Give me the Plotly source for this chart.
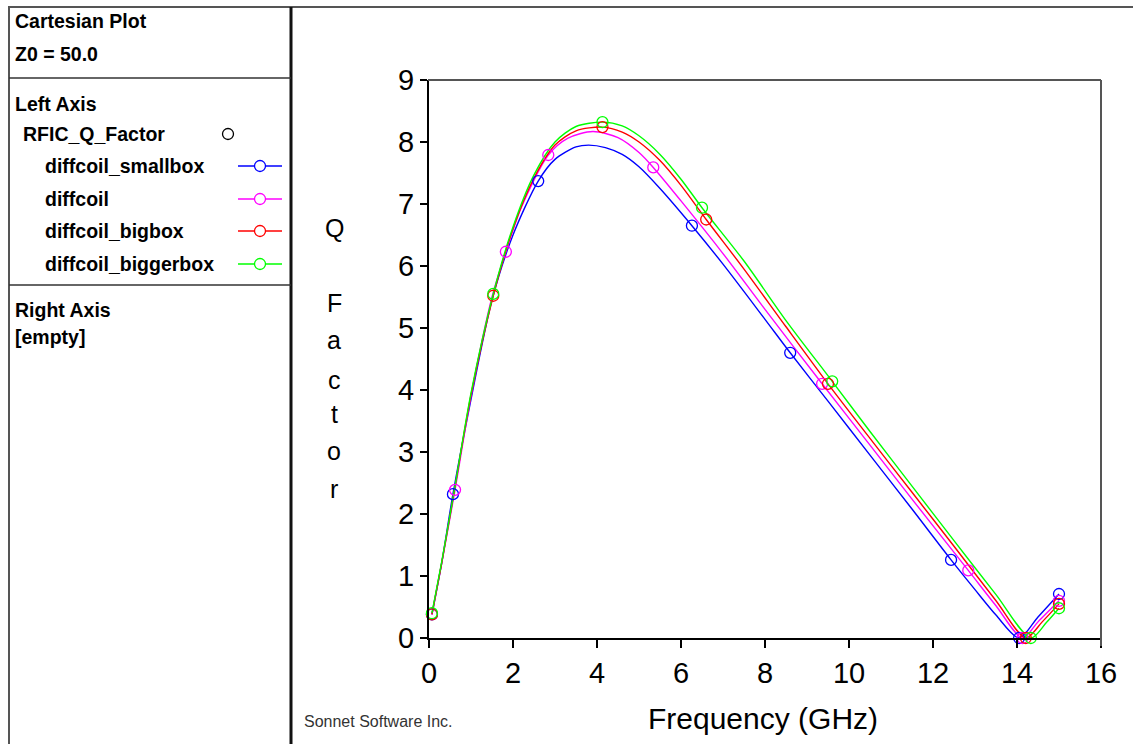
import plotly.graph_objects as go

W, H = 1133, 744

# ---------------- data ----------------
names = ["diffcoil_smallbox", "diffcoil", "diffcoil_bigbox", "diffcoil_biggerbox"]
colors = ["#0000FF", "#FF00FF", "#FF0000", "#00FF00"]

f_small = [0.07, 0.3, 0.57, 1.0, 1.5, 2.0, 2.6, 3.0, 3.5, 3.8, 4.2, 4.6, 5.0, 5.5, 6.26, 7.0, 8.0, 8.6,
           9.5, 10.5, 11.5, 12.43, 13.0, 13.5, 14.05, 14.5, 15.0]
q_small = [0.38, 1.2, 2.32, 3.85, 5.45, 6.5, 7.37, 7.72, 7.92, 7.95, 7.91, 7.8, 7.6, 7.25, 6.65, 6.03, 5.14, 4.6,
           3.82, 2.95, 2.08, 1.26, 0.78, 0.37, 0.0, 0.34, 0.71]
mk_small = [0.07, 0.57, 2.6, 6.26, 8.6, 12.43, 14.05, 15.0]

f_diff = [0.07, 0.3, 0.62, 1.0, 1.5, 1.83, 2.2, 2.84, 3.3, 3.9, 4.5, 5.0, 5.34, 6.0, 7.0, 8.0, 9.36, 10.5,
          11.5, 12.84, 13.5, 14.13, 14.5, 15.0]
q_diff = [0.38, 1.2, 2.39, 3.9, 5.5, 6.23, 6.95, 7.79, 8.06, 8.17, 8.07, 7.83, 7.59, 7.05, 6.2, 5.3, 4.1, 3.11,
          2.24, 1.09, 0.52, 0.0, 0.26, 0.6]
mk_diff = [0.62, 1.83, 2.84, 5.34, 9.36, 12.84, 14.13, 15.0]

f_big = [0.07, 0.3, 0.6, 1.0, 1.53, 2.0, 2.5, 3.0, 3.5, 4.13, 4.6, 5.0, 5.5, 6.0, 6.6, 7.5, 8.5, 9.5, 10.5,
         11.5, 12.5, 13.5, 14.21, 14.6, 15.0]
q_big = [0.38, 1.2, 2.36, 3.92, 5.52, 6.6, 7.42, 7.95, 8.18, 8.24, 8.16, 8.0, 7.7, 7.3, 6.75, 5.95, 5.02, 4.1,
         3.22, 2.35, 1.48, 0.6, 0.0, 0.26, 0.55]
mk_big = [0.07, 1.53, 4.13, 6.6, 9.5, 14.21, 15.0]

f_bigger = [0.07, 0.3, 0.6, 1.0, 1.53, 2.0, 2.5, 3.0, 3.5, 4.13, 4.6, 5.0, 5.5, 6.0, 6.5, 7.5, 8.5, 9.6,
            10.5, 11.5, 12.5, 13.5, 14.33, 14.7, 15.0]
q_bigger = [0.4, 1.22, 2.37, 3.95, 5.55, 6.63, 7.47, 8.0, 8.25, 8.32, 8.26, 8.1, 7.8, 7.4, 6.94, 6.08, 5.12,
            4.14, 3.33, 2.45, 1.57, 0.7, 0.0, 0.25, 0.48]
mk_bigger = [0.07, 1.53, 4.13, 6.5, 9.6, 14.33, 15.0]

series_f = [f_small, f_diff, f_big, f_bigger]
series_q = [q_small, q_diff, q_big, q_bigger]
series_mk = [mk_small, mk_diff, mk_big, mk_bigger]

x_ticks = [0, 2, 4, 6, 8, 10, 12, 14, 16]
y_ticks = [0, 1, 2, 3, 4, 5, 6, 7, 8, 9]

# ---------------- helpers ----------------
def px(x):
    return x / W


def py(y):
    return 1 - y / H


fig = go.Figure()

for f, q, mk, c, n in zip(series_f, series_q, series_mk, colors, names):
    fig.add_trace(go.Scatter(x=f, y=q, mode="lines", name=n,
                             line=dict(color=c, width=1.4, shape="spline", smoothing=0.8),
                             showlegend=False, hoverinfo="skip"))
for f, q, mk, c, n in zip(series_f, series_q, series_mk, colors, names):
    mx = [v for v in f if v in mk]
    my = [q[i] for i, v in enumerate(f) if v in mk]
    fig.add_trace(go.Scatter(x=mx, y=my, mode="markers", name=n, cliponaxis=False,
                             marker=dict(symbol="circle-open", size=11, color=c, line=dict(width=1.3)),
                             showlegend=False))

shapes = []
GREY = "#555555"
# outer frame / panel dividers
shapes.append(dict(type="line", xref="paper", yref="paper", x0=px(8), x1=px(1133), y0=py(7), y1=py(7),
                   line=dict(color=GREY, width=2)))
shapes.append(dict(type="line", xref="paper", yref="paper", x0=px(9), x1=px(9), y0=py(7), y1=py(744),
                   line=dict(color=GREY, width=2)))
shapes.append(dict(type="line", xref="paper", yref="paper", x0=px(291), x1=px(291), y0=py(7), y1=py(744),
                   line=dict(color="#111111", width=3)))
for yy in (78, 285):
    shapes.append(dict(type="line", xref="paper", yref="paper", x0=px(9), x1=px(291), y0=py(yy), y1=py(yy),
                       line=dict(color="#333333", width=1.5)))
# plot frame top/right
shapes.append(dict(type="line", xref="paper", yref="paper", x0=px(428), x1=px(1101), y0=py(80), y1=py(80),
                   line=dict(color=GREY, width=2)))
shapes.append(dict(type="line", xref="paper", yref="paper", x0=px(1101), x1=px(1101), y0=py(80), y1=py(646),
                   line=dict(color=GREY, width=2)))

# legend symbols
leg_rows = [166, 199, 231, 264]
for yy, c in zip(leg_rows, colors):
    shapes.append(dict(type="line", xref="paper", yref="paper", x0=px(238), x1=px(282), y0=py(yy), y1=py(yy),
                       line=dict(color=c, width=1.3)))
    shapes.append(dict(type="circle", xref="paper", yref="paper", x0=px(254.5), x1=px(265.5),
                       y0=py(yy + 5.5), y1=py(yy - 5.5), fillcolor="white", line=dict(color=c, width=1.3)))
shapes.append(dict(type="circle", xref="paper", yref="paper", x0=px(222.5), x1=px(233.5),
                   y0=py(134 + 5.5), y1=py(134 - 5.5), fillcolor="white", line=dict(color="black", width=1.3)))

ann = []
BF = dict(family="Liberation Sans", size=19.5, color="black")


def label(text, x, y, font=BF):
    ann.append(dict(text=text, x=px(x), y=py(y), xref="paper", yref="paper", showarrow=False,
                    xanchor="left", yanchor="middle", font=font))


label("<b>Cartesian Plot</b>", 13, 21)
label("<b>Z0 = 50.0</b>", 13, 54)
label("<b>Left Axis</b>", 13, 104)
label("<b>RFIC_Q_Factor</b>", 21, 134)
for yy, n in zip(leg_rows, names):
    label("<b>%s</b>" % n, 43, yy)
label("<b>Right Axis</b>", 13, 310)
label("<b>[empty]</b>", 13, 337)

# vertical stacked y-axis title
ytitle_letters = ["Q", "F", "a", "c", "t", "o", "r"]
ytitle_y = [228, 303, 340, 380, 414, 451, 489]
for ch, yy in zip(ytitle_letters, ytitle_y):
    ann.append(dict(text=ch, x=px(334), y=py(yy), xref="paper", yref="paper", showarrow=False,
                    xanchor="center", yanchor="middle",
                    font=dict(family="Liberation Sans", size=25, color="black")))

ann.append(dict(text="Frequency (GHz)", x=px(763), y=py(718), xref="paper", yref="paper", showarrow=False,
                xanchor="center", yanchor="middle", font=dict(family="Liberation Sans", size=30, color="black")))
ann.append(dict(text="Sonnet Software Inc.", x=px(302), y=py(721), xref="paper", yref="paper",
                showarrow=False, xanchor="left", yanchor="middle",
                font=dict(family="Liberation Sans", size=16, color="#333333")))

fig.update_layout(
    width=W, height=H, autosize=False,
    margin=dict(l=0, r=0, t=0, b=0, pad=0, autoexpand=False),
    paper_bgcolor="white", plot_bgcolor="white",
    shapes=shapes, annotations=ann,
    xaxis=dict(domain=[px(429), px(1101)], range=[0, 16], tickvals=x_ticks, automargin=False,
               ticktext=[str(v) for v in x_ticks], showgrid=False, zeroline=False,
               showline=True, linecolor="black", linewidth=2, ticks="outside", ticklen=8,
               tickwidth=1.5, tickcolor="black",
               tickfont=dict(family="Liberation Sans", size=29, color="black")),
    yaxis=dict(domain=[py(638), py(80)], range=[0, 9], tickvals=y_ticks, automargin=False,
               ticktext=[str(v) for v in y_ticks], showgrid=False, zeroline=False,
               showline=True, linecolor="black", linewidth=2, ticks="outside", ticklen=7,
               tickwidth=1.5, tickcolor="black",
               tickfont=dict(family="Liberation Sans", size=29, color="black")),
)

fig.write_html("out.html")
